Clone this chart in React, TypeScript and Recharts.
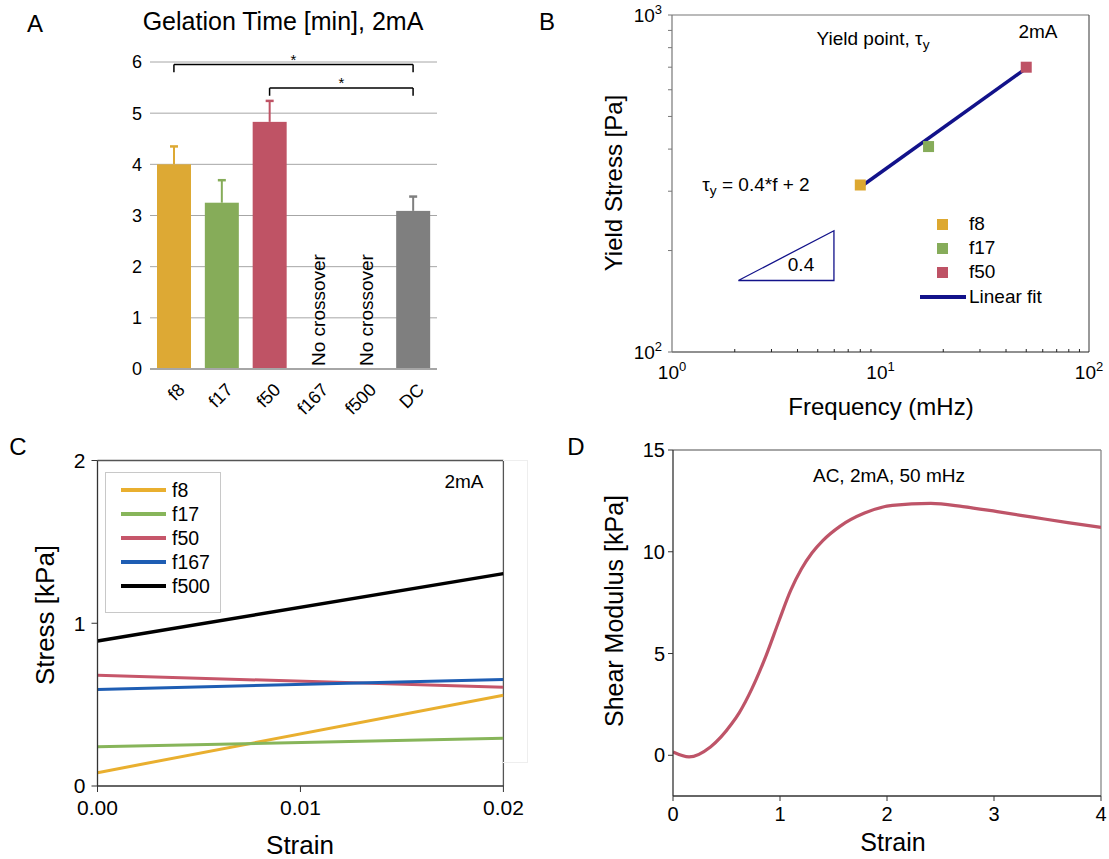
import React from 'react';
import {
  BarChart, Bar, XAxis, YAxis, CartesianGrid, ReferenceLine,
  ScatterChart, Scatter, Cell, LineChart, Line,
} from 'recharts';

const FONT = '"Liberation Sans", Arial, Helvetica, sans-serif';

// ---- A: gelation time
const gelCategories = ['f8', 'f17', 'f50', 'f167', 'f500', 'DC'];
const gelTime = [4.0, 3.25, 4.83, null, null, 3.09];
const gelError = [0.35, 0.44, 0.41, null, null, 0.28];
const gelTicks = [0, 1, 2, 3, 4, 5, 6];
const noCrossover = ['f167', 'f500'];
const sigFrom = ['f8', 'f50'];
const sigTo = ['DC', 'DC'];
const sigLevel = [5.95, 5.49];
const sigDrop = [5.8, 5.34];

// ---- B: yield stress vs frequency
const yieldLabels = ['f8', 'f17', 'f50'];
const yieldFreq = [8, 17, 50];
const yieldStress = [313, 407, 700];
const fitFreq = [8.2, 48.6];
const fitStress = [312, 686];
const slopeFreq = [2.08, 5.98, 5.98, 2.08];
const slopeStress = [163, 163, 229, 163];
const freqTicks = [1, 2, 3, 4, 5, 6, 7, 8, 9, 10, 20, 30, 40, 50, 60, 70, 80, 90, 100];
const stressTicks = [100, 200, 300, 400, 500, 600, 700, 800, 900, 1000];

// ---- C: stress vs strain
const strainC = [0, 0.02];
const stressSeries = ['f8', 'f17', 'f50', 'f167', 'f500'];
const stressF8 = [0.082, 0.558];
const stressF17 = [0.241, 0.293];
const stressF50 = [0.681, 0.606];
const stressF167 = [0.593, 0.655];
const stressF500 = [0.891, 1.305];
const strainTicksC = [0, 0.01, 0.02];
const stressTicksC = [0, 1, 2];

// ---- D: shear modulus vs strain
const strainD = [0, 0.15, 0.35, 0.55, 0.62, 0.74, 0.87, 0.99, 1.1, 1.2, 1.3, 1.4, 1.56, 1.79, 2.05, 2.41, 2.71, 3.03, 3.36, 3.69, 4.0];
const modulusD = [0.16, -0.08, 0.41, 1.56, 2.1, 3.3, 4.9, 6.6, 8.1, 9.15, 9.95, 10.55, 11.25, 11.9, 12.28, 12.38, 12.22, 11.97, 11.7, 11.43, 11.2];
const strainTicksD = [0, 1, 2, 3, 4];
const modulusTicksD = [0, 5, 10, 15];

// colours
const barColors = ['#DDA934', '#86AC59', '#BF5365', '#fff', '#fff', '#7F7F7F'];
const pointColors = ['#DDA830', '#86AC5A', '#BE5265'];
const lineColors = ['#E9AF2F', '#87B55A', '#C6566A', '#1E5DB3', '#000000'];
const NAVY = '#12128A';

const gelData = gelCategories.map((cat, i) => ({ cat, time: gelTime[i], err: gelError[i] }));
const yieldData = yieldFreq.map((f, i) => ({ f, s: yieldStress[i], name: yieldLabels[i] }));
const fitData = fitFreq.map((f, i) => ({ f, s: fitStress[i] }));
const slopeData = slopeFreq.map((f, i) => ({ f, s: slopeStress[i] }));
const stressValues = [stressF8, stressF17, stressF50, stressF167, stressF500];
const stressData = strainC.map((x, i) => {
  const row: any = { x };
  stressSeries.forEach((k, j) => { row[k] = stressValues[j][i]; });
  return row;
});
const modulusData = strainD.map((x, i) => ({ x, g: modulusD[i] }));

function Txt({ x, y, size, rotate = 0, children }: any) {
  return (
    <div style={{
      position: 'absolute', left: x, top: y, fontSize: size, lineHeight: 1,
      whiteSpace: 'nowrap', transform: `translate(-50%, -50%) rotate(${rotate}deg)`,
    }}>{children}</div>
  );
}

const Sub = ({ children }: any) => (
  <span style={{ fontSize: '0.72em', position: 'relative', top: '0.3em' }}>{children}</span>
);

function GelBar(props: any) {
  const { x, y, width, height, payload } = props;
  if (payload.time == null || !height) return <g />;
  const color = barColors[gelCategories.indexOf(payload.cat)];
  const perUnit = height / payload.time;
  const top = y - payload.err * perUnit;
  const cx = x + width / 2;
  return (
    <g>
      <rect x={x} y={y} width={width} height={height} fill={color} />
      <line x1={cx} x2={cx} y1={y} y2={top} stroke={color} strokeWidth={2} />
      <line x1={cx - 4} x2={cx + 4} y1={top} y2={top} stroke={color} strokeWidth={2.5} />
    </g>
  );
}

function GelTick(props: any) {
  const { x, y, payload } = props;
  const cat = payload.value;
  const ax = x + 12, ay = y + 22;
  return (
    <g>
      <text x={ax} y={ay} transform={`rotate(-45, ${ax}, ${ay})`} textAnchor="end" fontSize={18} fill="#000">{cat}</text>
      {noCrossover.includes(cat) && (
        <text x={x + 8} y={y - 3} transform={`rotate(-90, ${x + 8}, ${y - 3})`} textAnchor="start" fontSize={19} fill="#000">No crossover</text>
      )}
    </g>
  );
}

function FreqTick(props: any) {
  const { x, y, payload } = props;
  const e = Math.log10(payload.value);
  const major = Math.abs(e - Math.round(e)) < 1e-9;
  if (!major) return <line x1={x} x2={x} y1={y} y2={y - 3} stroke="#222" />;
  return (
    <text x={x} y={y + 27} textAnchor="middle" fontSize={19} fill="#000">
      10<tspan dy={-8} fontSize={13}>{Math.round(e)}</tspan>
    </text>
  );
}

function StressTick(props: any) {
  const { x, y, payload } = props;
  const e = Math.log10(payload.value);
  const major = Math.abs(e - Math.round(e)) < 1e-9;
  if (!major) return <g />;
  return (
    <text x={x} y={y + 7} textAnchor="end" fontSize={19} fill="#000">
      10<tspan dy={-8} fontSize={13}>{Math.round(e)}</tspan>
    </text>
  );
}

const square = (p: any) => <rect x={p.cx - 5.5} y={p.cy - 5.5} width={11} height={11} fill={p.fill} />;
const noMarker = () => <g />;

export default function App() {
  return (
    <div style={{ position: 'absolute', left: 0, top: 0, width: 1109, height: 859, background: '#fff', fontFamily: FONT, color: '#000', overflow: 'hidden' }}>
      {/* Panel A */}
      <div style={{ position: 'absolute', left: 0, top: 0 }}>
        <BarChart width={460} height={420} data={gelData} margin={{ top: 62, right: 23, bottom: 1, left: 110 }}>
          <CartesianGrid vertical={false} stroke="#A6A6A6" />
          <XAxis dataKey="cat" height={50} interval={0} tickSize={0} tickMargin={0} tickLine={false}
            axisLine={{ stroke: '#A6A6A6', strokeWidth: 2 }} tick={<GelTick />} />
          <YAxis domain={[0, 6]} ticks={gelTicks} interval={0} width={40} axisLine={false} tickLine={false}
            tick={{ fontSize: 18, fill: '#000' }} />
          <Bar dataKey="time" barSize={34} shape={GelBar} isAnimationActive={false} />
          {sigFrom.map((from, i) => (
            <ReferenceLine key={'h' + i} segment={[{ x: from, y: sigLevel[i] }, { x: sigTo[i], y: sigLevel[i] }]}
              stroke="#000" strokeWidth={1.5} ifOverflow="visible"
              label={{ value: '*', position: 'top', offset: 0, fontSize: 15, fill: '#000' }} />
          ))}
          {sigFrom.map((from, i) => (
            <ReferenceLine key={'l' + i} segment={[{ x: from, y: sigLevel[i] }, { x: from, y: sigDrop[i] }]}
              stroke="#000" strokeWidth={1.5} ifOverflow="visible" />
          ))}
          {sigTo.map((to, i) => (
            <ReferenceLine key={'r' + i} segment={[{ x: to, y: sigLevel[i] }, { x: to, y: sigDrop[i] }]}
              stroke="#000" strokeWidth={1.5} ifOverflow="visible" />
          ))}
        </BarChart>
      </div>
      <Txt x={35} y={24} size={24}>A</Txt>
      <Txt x={283} y={21} size={25}>Gelation Time [min], 2mA</Txt>

      {/* Panel B */}
      <div style={{ position: 'absolute', left: 560, top: 0 }}>
        <ScatterChart width={549} height={430} margin={{ top: 15, right: 20, bottom: 38, left: 62 }}>
          <XAxis type="number" dataKey="f" scale="log" domain={[1, 100]} ticks={freqTicks} interval={0}
            height={40} tickSize={0} tickMargin={0} tickLine={false} axisLine={{ stroke: '#222', strokeWidth: 1.2 }}
            tick={<FreqTick />} allowDataOverflow />
          <YAxis type="number" dataKey="s" scale="log" domain={[100, 1000]} ticks={stressTicks} interval={0}
            width={50} tickSize={4} tickMargin={6} tickLine={{ stroke: '#777' }} axisLine={{ stroke: '#777', strokeWidth: 1.2 }}
            tick={<StressTick />} allowDataOverflow />
          <ReferenceLine y={1000} stroke="#777" strokeWidth={1.2} />
          <ReferenceLine x={100} stroke="#555" strokeWidth={1.2} />
          <Scatter data={slopeData} line={{ stroke: NAVY, strokeWidth: 1.3 }} lineType="joint" shape={noMarker} isAnimationActive={false} />
          <Scatter data={fitData} line={{ stroke: NAVY, strokeWidth: 3.5 }} lineType="joint" shape={noMarker} isAnimationActive={false} />
          <Scatter data={yieldData} shape={square} isAnimationActive={false}>
            {yieldData.map((d, i) => <Cell key={d.name} fill={pointColors[i]} />)}
          </Scatter>
        </ScatterChart>
      </div>
      <Txt x={547} y={22} size={24}>B</Txt>
      <Txt x={614} y={183} size={24} rotate={-90}>Yield Stress [Pa]</Txt>
      <Txt x={881} y={407} size={24}>Frequency (mHz)</Txt>
      <Txt x={873} y={38} size={19}>Yield point, τ<Sub>y</Sub></Txt>
      <Txt x={1038} y={31} size={19}>2mA</Txt>
      <Txt x={756} y={184} size={19}>τ<Sub>y</Sub> = 0.4*f + 2</Txt>
      <Txt x={801} y={264} size={19}>0.4</Txt>
      {yieldLabels.map((name, i) => (
        <React.Fragment key={name}>
          <div style={{ position: 'absolute', left: 937, top: 219 + i * 24.2, width: 11, height: 11, background: pointColors[i] }} />
          <div style={{ position: 'absolute', left: 969, top: 214 + i * 24.2, fontSize: 19, lineHeight: 1 }}>{name}</div>
        </React.Fragment>
      ))}
      <div style={{ position: 'absolute', left: 920, top: 295, width: 46, height: 3.5, background: NAVY }} />
      <div style={{ position: 'absolute', left: 969, top: 287, fontSize: 19, lineHeight: 1 }}>Linear fit</div>

      {/* Panel C */}
      <div style={{ position: 'absolute', left: 0, top: 430 }}>
        <LineChart width={540} height={429} data={stressData} margin={{ top: 30.5, right: 36.6, bottom: 33, left: 57.5 }}>
          <XAxis type="number" dataKey="x" domain={[0, 0.02]} ticks={strainTicksC} interval={0} height={40}
            tickSize={6} tickMargin={8} tickFormatter={(v: number) => v.toFixed(2)}
            axisLine={{ stroke: '#333', strokeWidth: 1.3 }} tickLine={{ stroke: '#333' }}
            tick={{ fontSize: 21, fill: '#000' }} allowDataOverflow />
          <YAxis type="number" domain={[0, 2]} ticks={stressTicksC} interval={0} width={40}
            tickSize={6} tickMargin={6} axisLine={{ stroke: '#333', strokeWidth: 1.3 }} tickLine={{ stroke: '#333' }}
            tick={{ fontSize: 21, fill: '#000' }} allowDataOverflow />
          <ReferenceLine y={2} stroke="#555" strokeWidth={1.3} />
          <ReferenceLine x={0.02} stroke="#555" strokeWidth={1.3} />
          {stressSeries.map((k, j) => (
            <Line key={k} dataKey={k} type="linear" stroke={lineColors[j]} strokeWidth={k === 'f500' ? 3.5 : 3}
              dot={false} isAnimationActive={false} />
          ))}
        </LineChart>
      </div>
      <div style={{ position: 'absolute', left: 503, top: 460, width: 24, height: 301, border: '1px solid #eee', borderLeft: 'none' }} />
      <Txt x={18} y={447} size={24}>C</Txt>
      <Txt x={45} y={615} size={26} rotate={-90}>Stress [kPa]</Txt>
      <Txt x={300} y={845} size={26}>Strain</Txt>
      <Txt x={464} y={481} size={19}>2mA</Txt>
      <div style={{ position: 'absolute', left: 105, top: 472, width: 114, height: 139, border: '1px solid #c8c8c8', background: '#fff' }}>
        {stressSeries.map((k, j) => (
          <React.Fragment key={k}>
            <div style={{ position: 'absolute', left: 15, top: 16.5 + j * 24 - 1.5, width: 45, height: 3.5, background: lineColors[j] }} />
            <div style={{ position: 'absolute', left: 66, top: 16.5 + j * 24 - 9, fontSize: 19.5, lineHeight: 1 }}>{k}</div>
          </React.Fragment>
        ))}
      </div>

      {/* Panel D */}
      <div style={{ position: 'absolute', left: 560, top: 430 }}>
        <LineChart width={549} height={429} data={modulusData} margin={{ top: 20, right: 8, bottom: 23, left: 63 }}>
          <XAxis type="number" dataKey="x" domain={[0, 4]} ticks={strainTicksD} interval={0} height={40}
            tickSize={5} tickMargin={6} axisLine={{ stroke: '#333', strokeWidth: 1.3 }} tickLine={{ stroke: '#333' }}
            tick={{ fontSize: 20, fill: '#000' }} allowDataOverflow />
          <YAxis type="number" domain={[-2, 15]} ticks={modulusTicksD} interval={0} width={50}
            tickSize={5} tickMargin={3} axisLine={{ stroke: '#333', strokeWidth: 1.3 }} tickLine={{ stroke: '#333' }}
            tick={{ fontSize: 20, fill: '#000' }} allowDataOverflow />
          <ReferenceLine y={15} stroke="#888" strokeWidth={1.3} />
          <ReferenceLine x={4} stroke="#888" strokeWidth={1.3} />
          <Line dataKey="g" type="monotone" stroke="#BE5468" strokeWidth={3.2} dot={false} isAnimationActive={false} />
        </LineChart>
      </div>
      <Txt x={576} y={447} size={24}>D</Txt>
      <Txt x={614} y={611} size={25} rotate={-90}>Shear Modulus [kPa]</Txt>
      <Txt x={893} y={842} size={25}>Strain</Txt>
      <Txt x={889} y={475} size={19}>AC, 2mA, 50 mHz</Txt>
    </div>
  );
}
